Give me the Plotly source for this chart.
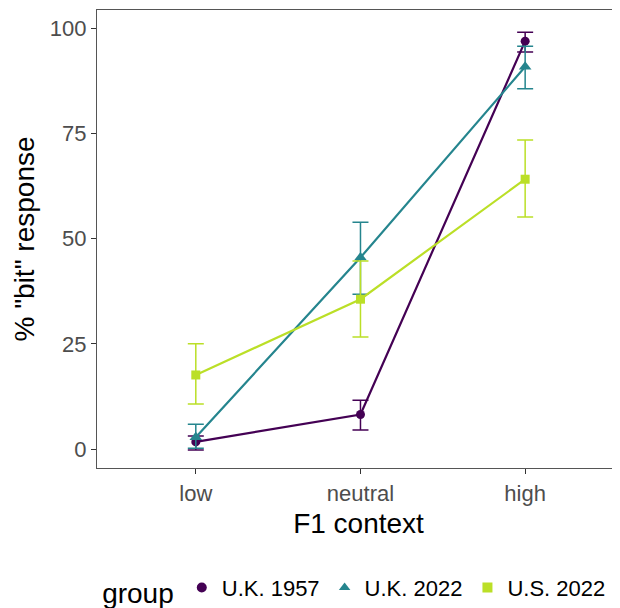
import plotly.graph_objects as go

categories = ["low", "neutral", "high"]
groups = ["U.K. 1957", "U.K. 2022", "U.S. 2022"]
uk1957 = [1.7, 8.2, 96.9]
uk1957_hi = [3.1, 11.6, 99.0]
uk1957_lo = [-0.2, 4.5, 94.3]
uk2022 = [2.8, 45.5, 90.8]
uk2022_hi = [5.9, 53.9, 95.7]
uk2022_lo = [0.2, 36.8, 85.6]
us2022 = [17.6, 35.6, 64.1]
us2022_hi = [25.0, 44.7, 73.4]
us2022_lo = [10.7, 26.6, 55.1]
y_ticks = [0, 25, 50, 75, 100]

colors = ["#440154", "#25858E", "#BBDF27"]
symbols = ["circle", "triangle-up", "square"]
marker_sizes = [9, 11, 9]
series = [(uk1957, uk1957_hi, uk1957_lo), (uk2022, uk2022_hi, uk2022_lo), (us2022, us2022_hi, us2022_lo)]

fig = go.Figure()
for name, (v, hi, lo), c, s, ms in zip(groups, series, colors, symbols, marker_sizes):
    fig.add_trace(go.Scatter(
        x=categories, y=v, name=name, mode="lines+markers", showlegend=False,
        line=dict(color=c, width=2.2),
        marker=dict(color=c, symbol=s, size=ms),
        error_y=dict(type="data", symmetric=False,
                     array=[h - m for h, m in zip(hi, v)],
                     arrayminus=[m - l for l, m in zip(lo, v)],
                     color=c, thickness=1.5, width=8),
    ))
# legend keys
for name, c, s in zip(groups, colors, symbols):
    fig.add_trace(go.Scatter(
        x=[None], y=[None], name=name, mode="markers",
        marker=dict(color=c, symbol=s, size=10), showlegend=True,
    ))

font = "Liberation Sans, Arial, Helvetica, sans-serif"
fig.update_layout(
    width=612, height=640,
    margin=dict(l=89, r=0, t=2, b=180),
    plot_bgcolor="white", paper_bgcolor="white",
    font=dict(family=font, size=23, color="black"),
    xaxis=dict(
        type="category", categoryorder="array", categoryarray=categories,
        range=[-0.6, 2.576], automargin=False,
        showline=True, linecolor="#555555", linewidth=1.2, mirror=True,
        ticks="outside", ticklen=5, tickcolor="#333333", tickwidth=1.2,
        tickfont=dict(size=22, color="#4d4d4d"), showgrid=False, zeroline=False,
        title=dict(text="F1 context", font=dict(size=28, color="black"), standoff=8),
    ),
    yaxis=dict(
        range=[-4.5, 104.3], tickvals=y_ticks, automargin=False,
        showline=True, linecolor="#555555", linewidth=1.2,
        ticks="outside", ticklen=5, tickcolor="#333333", tickwidth=1.2,
        tickfont=dict(size=22, color="#4d4d4d"), showgrid=False, zeroline=False,
        title=dict(text='% "bit" response', font=dict(size=28, color="black"), standoff=6),
    ),
    legend=dict(
        orientation="h", x=0.006, xanchor="left", y=-0.2155, yanchor="top",
        title=dict(text="group", side="left", font=dict(size=28)),
        font=dict(size=22), itemwidth=30,
    ),
)

fig.write_html("out.html")
